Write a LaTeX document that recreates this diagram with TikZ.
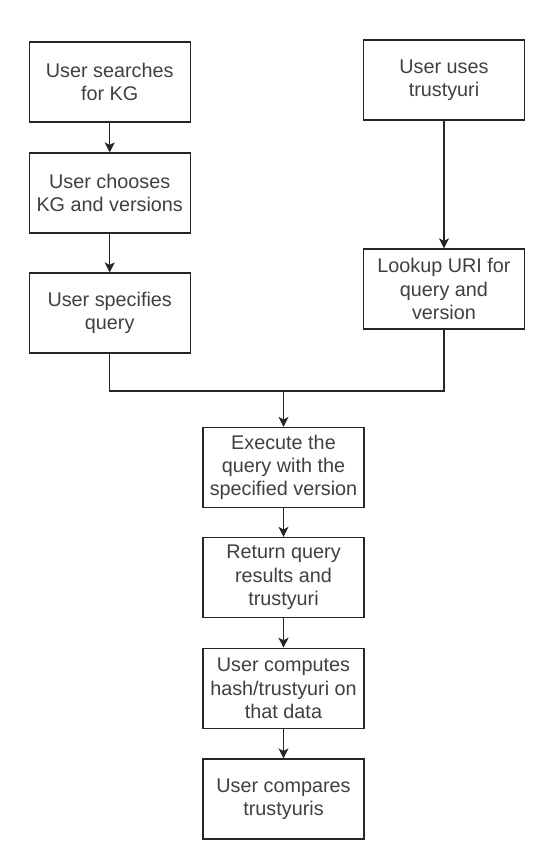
\documentclass[tikz,border=0pt]{standalone}
\usepackage{fontspec}
\setmainfont{Liberation Sans}
\usetikzlibrary{arrows.meta}
\begin{document}
\begin{tikzpicture}[x=1pt,y=-1pt,
  box/.style={draw=black!85, line width=1.2pt, fill=white, minimum width=161pt, minimum height=80pt,
    inner sep=0pt, align=center, text=black!75, font=\fontsize{19.8}{23.3}\selectfont},
  conn/.style={draw=black!85, line width=1.2pt},
  arr/.style={conn, -{Stealth[length=10pt, width=10pt, inset=2.5pt]}}]
\fill[white] (0,0) rectangle (559,865);
\useasboundingbox (0,0) rectangle (559,865);
\node[box] (b1) at (109.7,82) {User searches\\for KG};
\node[box] (b2) at (109.7,193) {User chooses\\KG and versions};
\node[box] (b3) at (109.7,313) {User specifies\\query};
\node[box] (b4) at (444,80) {User uses\\trustyuri};
\node[box] (b5) at (444,289) {Lookup URI for\\query and\\version};
\node[box] (b6) at (283.5,467.5) {Execute the\\query with the\\specified version};
\node[box] (b7) at (283.5,577.5) {Return query\\results and\\trustyuri};
\node[box] (b8) at (283.5,688.3) {User computes\\hash/trustyuri on\\that data};
\node[box] (b9) at (283.5,799) {User compares\\trustyuris};
\coordinate (j) at (283.5,391);
\draw[arr] (b1) -- (b2);
\draw[arr] (b2) -- (b3);
\draw[arr] (b4) -- (b5);
\draw[conn] (b3.south) |- (j);
\draw[conn] (b5.south) |- (j);
\draw[arr] (j) -- (b6);
\draw[arr] (b6) -- (b7);
\draw[arr] (b7) -- (b8);
\draw[arr] (b8) -- (b9);
\end{tikzpicture}
\end{document}
